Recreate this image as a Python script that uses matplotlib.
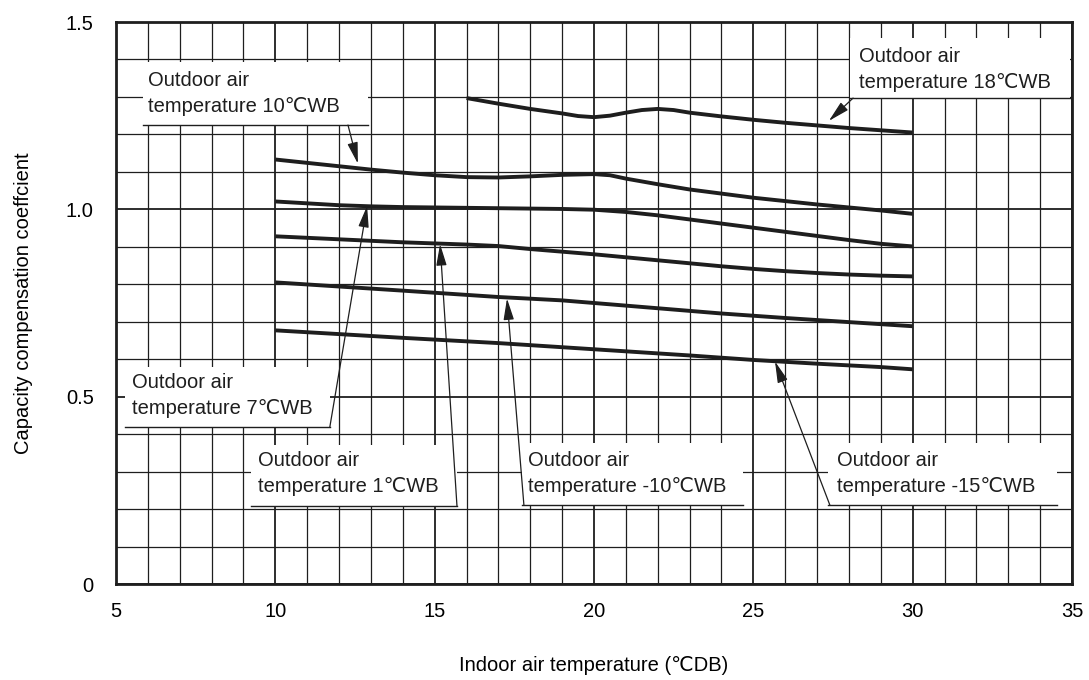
import matplotlib
matplotlib.use('Agg')
import matplotlib.pyplot as plt
from matplotlib.patches import Rectangle
from matplotlib.ticker import MultipleLocator

plt.rcParams.update({
    'font.family': ['Liberation Sans', 'DejaVu Sans'],
    'font.size'  : 14.5,
})
INK = '#1e1e1e'

# ── curve data (indoor air temp degC DB  ->  capacity coefficient) ──
x_18 = [16, 17, 18, 19, 19.5, 20, 20.5, 21, 21.5, 22, 22.5, 23, 24, 25, 26, 27, 28, 29, 30]
y_18 = [1.297, 1.282, 1.268, 1.256, 1.249, 1.246, 1.250, 1.258, 1.265, 1.268, 1.265,
        1.258, 1.248, 1.239, 1.231, 1.224, 1.217, 1.211, 1.205]

x_10 = [10, 11, 12, 13, 14, 15, 16, 17, 18, 19, 20, 20.5, 21, 22, 23, 24, 25, 26, 27, 28, 29, 30]
y_10 = [1.133, 1.124, 1.115, 1.106, 1.098, 1.091, 1.086, 1.085, 1.088, 1.092, 1.094, 1.091,
        1.082, 1.067, 1.053, 1.042, 1.031, 1.022, 1.013, 1.005, 0.997, 0.988]

x_7 = [10, 11, 12, 13, 14, 15, 16, 17, 18, 19, 20, 21, 22, 23, 24, 25, 26, 27, 28, 29, 30]
y_7 = [1.021, 1.016, 1.011, 1.008, 1.006, 1.005, 1.004, 1.003, 1.002, 1.001, 0.999, 0.993,
       0.984, 0.973, 0.962, 0.951, 0.940, 0.929, 0.918, 0.908, 0.901]

x_1 = [10, 12, 14, 15, 16, 17, 18, 19, 20, 21, 22, 23, 24, 25, 26, 27, 28, 29, 30]
y_1 = [0.928, 0.920, 0.912, 0.909, 0.906, 0.902, 0.894, 0.887, 0.880, 0.872, 0.864,
       0.856, 0.848, 0.841, 0.835, 0.830, 0.826, 0.823, 0.821]

x_m10 = [10, 12, 14, 17, 19, 20, 22, 24, 26, 28, 30]
y_m10 = [0.805, 0.794, 0.783, 0.766, 0.757, 0.750, 0.736, 0.722, 0.710, 0.699, 0.688]

x_m15 = [10, 12, 14, 17, 19, 21, 23, 25, 27, 29, 30]
y_m15 = [0.677, 0.667, 0.657, 0.643, 0.632, 0.621, 0.610, 0.598, 0.588, 0.579, 0.573]

curves = [(x_18, y_18), (x_10, y_10), (x_7, y_7), (x_1, y_1), (x_m10, y_m10), (x_m15, y_m15)]

labels = ['Outdoor air\ntemperature 18℃WB',
          'Outdoor air\ntemperature 10℃WB',
          'Outdoor air\ntemperature 7℃WB',
          'Outdoor air\ntemperature 1℃WB',
          'Outdoor air\ntemperature -10℃WB',
          'Outdoor air\ntemperature -15℃WB']

# label box (x0, x1, y0, y1), text anchor (x, y top), arrow tail end, arrow tip
boxes  = [(28.03, 34.93, 1.297, 1.457), (5.85, 12.90, 1.225, 1.393),
          (5.28, 11.71, 0.419, 0.579), (9.24, 15.70, 0.208, 0.371),
          (17.74, 24.67, 0.211, 0.376), (27.35, 34.53, 0.211, 0.376)]
text_xy = [(28.31, 1.432), (6.00, 1.368), (5.50, 0.562), (9.46, 0.354),
           (17.93, 0.354), (27.62, 0.354)]
tails  = [(28.13, 1.297), (12.28, 1.225), (11.71, 0.419), (15.70, 0.208),
          (17.80, 0.211), (27.40, 0.211)]
tips   = [(27.37, 1.236), (12.59, 1.122), (12.88, 1.009), (15.17, 0.907),
          (17.27, 0.762), (25.68, 0.594)]

fig = plt.figure(figsize=(10.89, 6.8), dpi=100)
ax = fig.add_axes([116/1089, 96/680, 956/1089, 562/680])

ax.set_xlim(5, 35)
ax.set_ylim(0, 1.5)
ax.xaxis.set_major_locator(MultipleLocator(5))
ax.xaxis.set_minor_locator(MultipleLocator(1))
ax.yaxis.set_major_locator(MultipleLocator(0.5))
ax.yaxis.set_minor_locator(MultipleLocator(0.1))
ax.set_yticks([0, 0.5, 1.0, 1.5])
ax.set_yticklabels(['0', '0.5', '1.0', '1.5'])
ax.set_axisbelow(True)
ax.grid(which='major', color=INK, lw=1.3)
ax.grid(which='minor', color=INK, lw=0.9)
ax.tick_params(which='both', length=0)
ax.tick_params(axis='x', pad=13)
ax.tick_params(axis='y', pad=16)
for sp in ax.spines.values():
    sp.set_linewidth(2)
    sp.set_color(INK)

for xs, ys in curves:
    ax.plot(xs, ys, color=INK, lw=2.8, zorder=4, solid_capstyle='butt')

for lab, (bx0, bx1, by0, by1), (tx, ty), tail, tip in zip(labels, boxes, text_xy, tails, tips):
    ax.add_patch(Rectangle((bx0, by0), bx1 - bx0, by1 - by0,
                           facecolor='white', edgecolor='none', zorder=2))
    ax.text(tx, ty, lab, ha='left', va='top', linespacing=1.45, color=INK, zorder=3)
    ax.plot([bx0, bx1], [by0, by0], color=INK, lw=1.0, zorder=3)
    ax.annotate('', xy=tip, xytext=tail, zorder=5,
                arrowprops=dict(arrowstyle='-|>,head_length=0.9,head_width=0.22',
                                color=INK, lw=0.9, shrinkA=0, shrinkB=0))

ax.set_xlabel('Indoor air temperature (℃DB)', labelpad=25)
ax.set_ylabel('Capacity compensation coeffcient', labelpad=24)

fig.savefig('out.png', dpi=100)
